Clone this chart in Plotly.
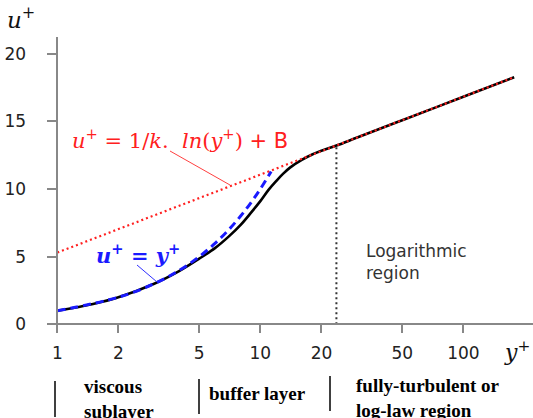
import plotly.graph_objects as go

# Velocity profile near a wall (wall units)
profile_yplus = [1.0, 1.5, 2.0, 3.0, 4.0, 5.0, 6.0, 7.0, 8.0, 9.0, 10.0, 11.0, 12.0,
                 13.0, 14.0, 16.0, 18.0, 20.0, 23.7, 30.0, 50.0, 100.0, 178.0]
profile_uplus = [1.0, 1.5, 2.0, 3.0, 3.95, 4.85, 5.65, 6.5, 7.35, 8.25, 9.1, 9.95, 10.6,
                 11.15, 11.58, 12.15, 12.55, 12.82, 13.21, 13.8, 15.08, 16.81, 18.26]

# Viscous sublayer law u+ = y+
linear_yplus = [1, 2, 3, 4, 5, 6, 7, 8, 9, 10, 11, 11.3]
linear_uplus = [1, 2, 3, 4, 5, 6, 7, 8, 9, 10, 11, 11.3]

# Log law endpoints
loglaw_yplus = [1.0, 178.0]
loglaw_uplus = [5.3, 18.26]

# Start of logarithmic region
boundary_yplus = [23.7, 23.7]
boundary_uplus = [0.0, 13.21]

x_ticks = [1, 2, 5, 10, 20, 50, 100]
y_ticks = [0, 5, 10, 15, 20]

W, H = 533, 418
ML, MR, MT, MB = 47, 0, 37, 88
PW, PH = W - ML - MR, H - MT - MB


def fx(px):
    return (px - ML) / PW


def fy(py):
    return (H - MB - py) / PH


fig = go.Figure()

fig.add_trace(go.Scatter(x=profile_yplus, y=profile_uplus, mode="lines",
                         line=dict(color="black", width=2.6, shape="spline", smoothing=1.0),
                         hoverinfo="skip", showlegend=False))
fig.add_trace(go.Scatter(x=linear_yplus, y=linear_uplus, mode="lines",
                         line=dict(color="#1a1aff", width=3, dash="8px,5px", shape="spline"),
                         hoverinfo="skip", showlegend=False))
fig.add_trace(go.Scatter(x=loglaw_yplus, y=loglaw_uplus, mode="lines",
                         line=dict(color="#ff2020", width=2.2, dash="2px,3px"),
                         hoverinfo="skip", showlegend=False))
fig.add_trace(go.Scatter(x=boundary_yplus, y=boundary_uplus, mode="lines",
                         line=dict(color="#333333", width=2, dash="2px,3px"),
                         hoverinfo="skip", showlegend=False))

axis_color = "#888888"
tick_font = dict(family="DejaVu Sans", size=17, color="#222222")

fig.update_xaxes(type="log", range=[-0.0507, 2.343], anchor="free", position=fy(324.3),
                 showline=True, linecolor=axis_color, linewidth=1.5,
                 ticks="outside", ticklen=8, tickwidth=1.5, tickcolor=axis_color,
                 tickvals=x_ticks, ticktext=[str(v) for v in x_ticks],
                 tickfont=tick_font, ticklabelstandoff=6,
                 showgrid=False, zeroline=False)
fig.update_yaxes(range=[-0.42, 21.23], anchor="free", position=fx(57.3),
                 showline=True, linecolor=axis_color, linewidth=1.5,
                 ticks="outside", ticklen=10, tickwidth=1.5, tickcolor=axis_color,
                 tickvals=y_ticks, tickfont=tick_font, ticklabelstandoff=17,
                 showgrid=False, zeroline=False)

serif = "DejaVu Serif"
annotations = [
    dict(x=fx(21), y=fy(18), text="<i>u</i><sup>+</sup>",
         font=dict(family=serif, size=23, color="#111111"), xanchor="center", yanchor="middle"),
    dict(x=fx(517), y=fy(351), text="<i>y</i><sup>+</sup>",
         font=dict(family=serif, size=22, color="#111111"), xanchor="center", yanchor="middle"),
    dict(x=fx(70), y=fy(139),
         text="<i>u</i><sup>+</sup> = 1/<i>k</i>.  <i>ln</i>(<i>y</i><sup>+</sup>)"
              "<span style='font-family:DejaVu Sans'> + B</span>",
         font=dict(family=serif, size=21, color="#ff2020"), xanchor="left", yanchor="middle"),
    dict(x=fx(94), y=fy(254), text="<b><i>u</i><sup>+</sup> = <i>y</i><sup>+</sup></b>",
         font=dict(family=serif, size=21, color="#1a1aff"), xanchor="left", yanchor="middle"),
    dict(x=fx(364), y=fy(262), text="Logarithmic<br>region", align="left",
         font=dict(family="DejaVu Sans", size=17, color="#333333"), xanchor="left", yanchor="middle"),
    dict(x=fx(82), y=fy(399), text="<b>viscous<br>sublayer</b>", align="left",
         font=dict(family="Liberation Serif", size=19, color="black"), xanchor="left", yanchor="middle"),
    dict(x=fx(207), y=fy(393), text="<b>buffer layer</b>", align="left",
         font=dict(family="Liberation Serif", size=19, color="black"), xanchor="left", yanchor="middle"),
    dict(x=fx(354), y=fy(398), text="<b>fully-turbulent or<br>log-law region</b>", align="left",
         font=dict(family="Liberation Serif", size=19, color="black"), xanchor="left", yanchor="middle"),
]
for a in annotations:
    a.update(xref="paper", yref="paper", showarrow=False)

shapes = [
    # leader lines for the formulas
    dict(type="line", x0=fx(170), y0=fy(151), x1=fx(230), y1=fy(185),
         line=dict(color="#ff4040", width=1)),
    dict(type="line", x0=fx(137), y0=fy(265), x1=fx(157), y1=fy(282),
         line=dict(color="#3030ff", width=1)),
    # separators between the wall regions
    dict(type="line", x0=fx(55), y0=fy(381), x1=fx(55), y1=fy(417),
         line=dict(color="black", width=1.5)),
    dict(type="line", x0=fx(199), y0=fy(379), x1=fx(199), y1=fy(414),
         line=dict(color="black", width=1.5)),
    dict(type="line", x0=fx(330), y0=fy(376), x1=fx(330), y1=fy(411),
         line=dict(color="black", width=1.5)),
]
for s in shapes:
    s.update(xref="paper", yref="paper", layer="above")

fig.update_layout(width=W, height=H, margin=dict(l=ML, r=MR, t=MT, b=MB),
                  paper_bgcolor="white", plot_bgcolor="white",
                  annotations=annotations, shapes=shapes, showlegend=False)

fig.write_html("out.html")
